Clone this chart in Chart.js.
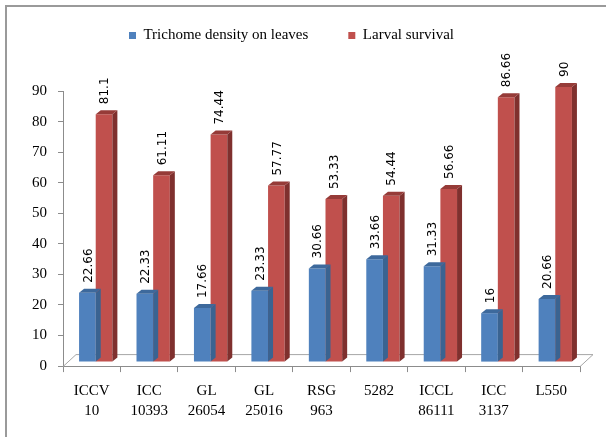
<!DOCTYPE html>
<html>
<head>
<meta charset="utf-8">
<script src="https://cdn.jsdelivr.net/npm/chart.js@4"></script>
<style>
html, body { margin: 0; padding: 0; background: #fff; overflow: hidden; }
#frame { position: absolute; left: 5px; top: 5px; width: 700px; height: 500px;
  border-top: 2px solid #9a9a9a; border-left: 2px solid #9a9a9a; }
#c { position: absolute; left: 0; top: 0; }
</style>
</head>
<body>
<div id="frame"></div>
<canvas id="c" width="606" height="437"></canvas>
<script>
// genotypes on the x axis (two-line labels)
const genotypes = [
  ["ICCV", "10"], ["ICC", "10393"], ["GL", "26054"], ["GL", "25016"],
  ["RSG", "963"], ["5282"], ["ICCL", "86111"], ["ICC", "3137"], ["L550"]
];
const trichomeDensity = [22.66, 22.33, 17.66, 23.33, 30.66, 33.66, 31.33, 16, 20.66];
const larvalSurvival = [81.1, 61.11, 74.44, 57.77, 53.33, 54.44, 56.66, 86.66, 90];

const serif = "'Liberation Serif', 'Times New Roman', serif";

// fake 3d: bars sit a bit back on the floor, with a side and a top face
const SHIFT_X = 4, SHIFT_Y = -4;
const FACE_W = 5, FACE_H = 4;
const FLOOR_X = 13, FLOOR_Y = -12;

const bar3d = {
  id: "bar3d",
  afterLayout(chart) {
    // legend sits a little left of centre in the original
    chart.legend.left -= 9;
    chart.legend.right -= 9;
  },
  beforeDatasetsDraw(chart) {
    const ctx = chart.ctx, a = chart.chartArea;
    // floor
    ctx.save();
    ctx.strokeStyle = "#a6a6a6";
    ctx.lineWidth = 1;
    ctx.beginPath();
    ctx.moveTo(a.left, a.bottom + 0.5);
    ctx.lineTo(a.left + FLOOR_X, a.bottom + FLOOR_Y + 0.5);
    ctx.lineTo(a.right + FLOOR_X, a.bottom + FLOOR_Y + 0.5);
    ctx.lineTo(a.right, a.bottom + 0.5);
    ctx.stroke();
    ctx.restore();
    ctx.save();
    ctx.translate(SHIFT_X, SHIFT_Y);
  },
  afterDatasetDraw(chart, args) {
    const ctx = chart.ctx;
    const ds = chart.data.datasets[args.index];
    args.meta.data.forEach(b => {
      const p = b.getProps(["x", "y", "base", "width"], true);
      const l = p.x - p.width / 2, r = p.x + p.width / 2;
      ctx.fillStyle = ds.sideColor;
      ctx.beginPath();
      ctx.moveTo(r, p.y);
      ctx.lineTo(r + FACE_W, p.y - FACE_H);
      ctx.lineTo(r + FACE_W, p.base - FACE_H);
      ctx.lineTo(r, p.base);
      ctx.closePath();
      ctx.fill();
      ctx.fillStyle = ds.topColor;
      ctx.beginPath();
      ctx.moveTo(l, p.y);
      ctx.lineTo(l + FACE_W, p.y - FACE_H);
      ctx.lineTo(r + FACE_W, p.y - FACE_H);
      ctx.lineTo(r, p.y);
      ctx.closePath();
      ctx.fill();
    });
  },
  afterDatasetsDraw(chart) {
    const ctx = chart.ctx;
    ctx.restore();
    // value labels, rotated
    ctx.save();
    ctx.fillStyle = "#000";
    ctx.font = "12px 'DejaVu Sans', sans-serif";
    ctx.textAlign = "left";
    ctx.textBaseline = "middle";
    chart.data.datasets.forEach((ds, i) => {
      chart.getDatasetMeta(i).data.forEach((b, j) => {
        ctx.save();
        ctx.translate(b.x + SHIFT_X + 1, b.y + SHIFT_Y - FACE_H - 6);
        ctx.rotate(-Math.PI / 2);
        ctx.fillText(String(ds.data[j]), 0, 0);
        ctx.restore();
      });
    });
    ctx.restore();
  }
};

// extra room under the legend
const legendGap = {
  id: "legendGap",
  beforeInit(chart) {
    const fit = chart.legend.fit;
    chart.legend.fit = function () {
      fit.bind(chart.legend)();
      this.height += 38;
    };
  }
};

new Chart(document.getElementById("c"), {
  type: "bar",
  data: {
    labels: genotypes,
    datasets: [
      { label: "Trichome density on leaves", data: trichomeDensity,
        backgroundColor: "#4f81bd", sideColor: "#3a6391", topColor: "#3d699c" },
      { label: "Larval survival", data: larvalSurvival,
        backgroundColor: "#c0504d", sideColor: "#7f302e", topColor: "#963b38" }
    ]
  },
  options: {
    responsive: false,
    animation: false,
    devicePixelRatio: 1,
    layout: { padding: { left: 21, right: 26, top: -12, bottom: 7 } },
    datasets: { bar: { categoryPercentage: 0.58, barPercentage: 1, clip: false } },
    plugins: {
      legend: {
        position: "top",
        labels: {
          boxWidth: 7, boxHeight: 7, padding: 40, color: "#000",
          font: { family: serif, size: 15 }
        }
      },
      tooltip: { enabled: false }
    },
    scales: {
      x: {
        grid: { offset: true, drawOnChartArea: false, tickLength: 6, color: "#8c8c8c" },
        border: { color: "#8c8c8c" },
        ticks: { color: "#000", padding: 9, maxRotation: 0, autoSkip: false,
          font: { family: serif, size: 15, lineHeight: 1.33 } }
      },
      y: {
        min: 0, max: 90,
        grid: { drawOnChartArea: false, tickLength: 5, color: "#8c8c8c" },
        border: { color: "#8c8c8c" },
        ticks: { stepSize: 10, color: "#000", padding: 11,
          font: { family: serif, size: 15 } }
      }
    }
  },
  plugins: [bar3d, legendGap]
});
</script>
</body>
</html>
